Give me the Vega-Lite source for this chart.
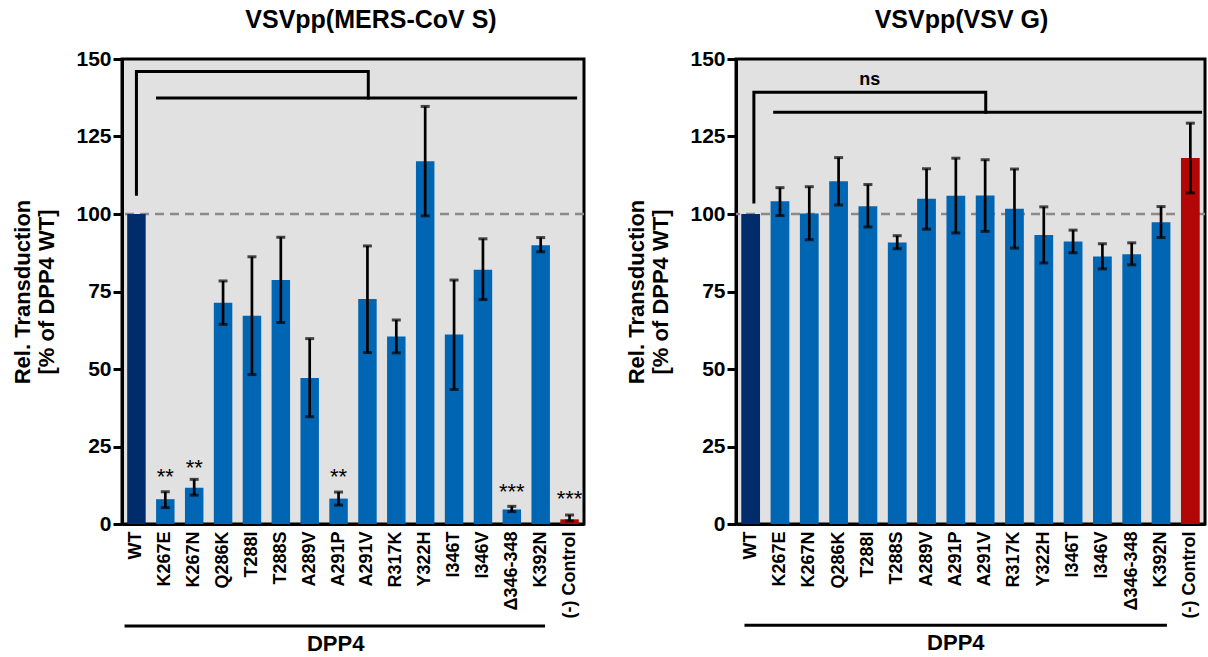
{
  "$schema": "https://vega.github.io/schema/vega-lite/v6.json",
  "padding": {"left": 10, "top": 6, "right": 2, "bottom": 2},
  "bounds": "flush",
  "spacing": 152,
  "config": {
    "font": "Liberation Sans",
    "view": {"fill": "#e1e1e1", "stroke": "#000000", "strokeWidth": 3},
    "axis": {
      "domainColor": "#000000", "domainWidth": 3, "grid": false,
      "labelColor": "#000000", "labelFontWeight": "bold",
      "titleColor": "#000000", "titleFontWeight": "bold",
      "tickColor": "#000000", "tickWidth": 3
    },
    "axisX": {"ticks": false, "labelAngle": -90, "labelFontSize": 18, "labelPadding": 7, "title": null},
    "axisY": {"tickSize": 9, "labelFontSize": 21, "labelPadding": 2, "titleFontSize": 22, "titlePadding": 17, "titleLineHeight": 24},
    "title": {"fontSize": 25, "fontWeight": "bold", "offset": 15, "color": "#000000"}
  },
  "datasets": {
    "ref": [{"y": 100}],
    "mers": [
      {"name": "WT", "value": 100, "grp": "WT"},
      {"name": "K267E", "value": 8.0, "lo": 5.3, "hi": 10.4, "grp": "mut", "star": "**", "starY": 12.9},
      {"name": "K267N", "value": 11.7, "lo": 9.3, "hi": 14.4, "grp": "mut", "star": "**", "starY": 15.9},
      {"name": "Q286K", "value": 71.4, "lo": 64.4, "hi": 78.4, "grp": "mut"},
      {"name": "T288I", "value": 67.2, "lo": 48.2, "hi": 86.2, "grp": "mut"},
      {"name": "T288S", "value": 78.7, "lo": 65.0, "hi": 92.5, "grp": "mut"},
      {"name": "A289V", "value": 47.1, "lo": 34.6, "hi": 59.8, "grp": "mut"},
      {"name": "A291P", "value": 8.2, "lo": 6.1, "hi": 10.3, "grp": "mut", "star": "**", "starY": 12.9},
      {"name": "A291V", "value": 72.6, "lo": 55.3, "hi": 89.7, "grp": "mut"},
      {"name": "R317K", "value": 60.5, "lo": 55.2, "hi": 65.8, "grp": "mut"},
      {"name": "Y322H", "value": 117.0, "lo": 99.4, "hi": 134.7, "grp": "mut"},
      {"name": "I346T", "value": 61.1, "lo": 43.4, "hi": 78.7, "grp": "mut"},
      {"name": "I346V", "value": 82.0, "lo": 72.4, "hi": 92.0, "grp": "mut"},
      {"name": "Δ346-348", "value": 4.7, "lo": 4.0, "hi": 5.7, "grp": "mut", "star": "***", "starY": 8.2},
      {"name": "K392N", "value": 89.9, "lo": 87.8, "hi": 92.4, "grp": "mut"},
      {"name": "(-) Control", "value": 1.5, "lo": 1.0, "hi": 2.9, "grp": "ctrl", "star": "***", "starY": 5.9}
    ],
    "vsv": [
      {"name": "WT", "value": 100, "grp": "WT"},
      {"name": "K267E", "value": 104.1, "lo": 99.5, "hi": 108.5, "grp": "mut"},
      {"name": "K267N", "value": 100.2, "lo": 91.7, "hi": 108.8, "grp": "mut"},
      {"name": "Q286K", "value": 110.6, "lo": 102.9, "hi": 118.2, "grp": "mut"},
      {"name": "T288I", "value": 102.5, "lo": 95.8, "hi": 109.5, "grp": "mut"},
      {"name": "T288S", "value": 90.8, "lo": 88.8, "hi": 93.0, "grp": "mut"},
      {"name": "A289V", "value": 104.9, "lo": 95.1, "hi": 114.6, "grp": "mut"},
      {"name": "A291P", "value": 105.9, "lo": 93.9, "hi": 118.0, "grp": "mut"},
      {"name": "A291V", "value": 106.0, "lo": 94.4, "hi": 117.5, "grp": "mut"},
      {"name": "R317K", "value": 101.7, "lo": 89.0, "hi": 114.5, "grp": "mut"},
      {"name": "Y322H", "value": 93.2, "lo": 84.2, "hi": 102.3, "grp": "mut"},
      {"name": "I346T", "value": 91.1, "lo": 87.5, "hi": 94.8, "grp": "mut"},
      {"name": "I346V", "value": 86.3, "lo": 82.3, "hi": 90.4, "grp": "mut"},
      {"name": "Δ346-348", "value": 87.0, "lo": 83.6, "hi": 90.7, "grp": "mut"},
      {"name": "K392N", "value": 97.3, "lo": 92.4, "hi": 102.4, "grp": "mut"},
      {"name": "(-) Control", "value": 118.1, "lo": 106.8, "hi": 129.3, "grp": "ctrl"}
    ],
    "brk_mers": [
      {"seg": "a", "ord": 1, "u": 0.5, "v": 106.4},
      {"seg": "a", "ord": 2, "u": 0.5, "v": 146.0},
      {"seg": "a", "ord": 3, "u": 8.53, "v": 146.0},
      {"seg": "a", "ord": 4, "u": 8.53, "v": 137.4},
      {"seg": "b", "ord": 1, "u": 1.23, "v": 137.4},
      {"seg": "b", "ord": 2, "u": 15.71, "v": 137.4},
      {"seg": "c", "ord": 1, "u": 0.14, "v": -32.9},
      {"seg": "c", "ord": 2, "u": 14.6, "v": -32.9}
    ],
    "lab_mers": [
      {"txt": "DPP4", "u": 7.4, "v": -38.7}
    ],
    "brk_vsv": [
      {"seg": "a", "ord": 1, "u": 0.61, "v": 103.9},
      {"seg": "a", "ord": 2, "u": 0.61, "v": 139.3},
      {"seg": "a", "ord": 3, "u": 8.52, "v": 139.3},
      {"seg": "a", "ord": 4, "u": 8.52, "v": 132.8},
      {"seg": "b", "ord": 1, "u": 1.32, "v": 132.8},
      {"seg": "b", "ord": 2, "u": 15.85, "v": 132.8},
      {"seg": "c", "ord": 1, "u": 0.34, "v": -32.7},
      {"seg": "c", "ord": 2, "u": 14.65, "v": -32.7}
    ],
    "lab_vsv": [
      {"txt": "DPP4", "u": 7.5, "v": -38.5},
      {"txt": "ns", "u": 4.56, "v": 143.3}
    ]
  },
  "hconcat": [
    {
      "width": 462,
      "height": 465,
      "title": {"text": "VSVpp(MERS-CoV S)", "dx": 18},
      "resolve": {"scale": {"x": "independent"}, "axis": {"x": "independent"}},
      "layer": [
        {
          "data": {"name": "ref"},
          "mark": {"type": "rule", "color": "#8a8a8a", "strokeWidth": 2.5, "strokeDash": [9, 6]},
          "encoding": {"y": {"field": "y", "type": "quantitative", "scale": {"domain": [0, 150], "nice": false}, "axis": {"values": [0, 25, 50, 75, 100, 125, 150], "title": ["Rel. Transduction", "[% of DPP4 WT]"]}}}
        },
        {
          "data": {"name": "mers"},
          "encoding": {
            "x": {"field": "name", "type": "nominal", "sort": null, "scale": {"paddingInner": 0.36, "paddingOuter": 0.18}, "axis": {"title": null}}
          },
          "layer": [
            {
              "mark": {"type": "bar"},
              "encoding": {
                "y": {"field": "value", "type": "quantitative", "scale": {"domain": [0, 150], "nice": false}, "axis": {"values": [0, 25, 50, 75, 100, 125, 150], "title": ["Rel. Transduction", "[% of DPP4 WT]"]}},
                "color": {"field": "grp", "type": "nominal", "scale": {"domain": ["WT", "mut", "ctrl"], "range": ["#002c6c", "#0066b3", "#b30606"]}, "legend": null}
              }
            },
            {
              "mark": {"type": "rule", "color": "#000000", "strokeWidth": 2.7},
              "encoding": {
                "y": {"field": "lo", "type": "quantitative"},
                "y2": {"field": "hi"}
              }
            },
            {
              "mark": {"type": "tick", "color": "#000000", "size": 9, "thickness": 3},
              "encoding": {"y": {"field": "lo", "type": "quantitative"}}
            },
            {
              "mark": {"type": "tick", "color": "#000000", "size": 9, "thickness": 3},
              "encoding": {"y": {"field": "hi", "type": "quantitative"}}
            },
            {
              "transform": [{"filter": "datum.star != null"}],
              "mark": {"type": "text", "fontSize": 22, "fontWeight": "normal", "baseline": "alphabetic", "color": "#000000"},
              "encoding": {
                "y": {"field": "starY", "type": "quantitative"},
                "text": {"field": "star"}
              }
            }
          ]
        },
        {
          "layer": [
            {
              "data": {"name": "brk_mers"},
              "mark": {"type": "line", "color": "#000000", "strokeWidth": 3, "strokeJoin": "miter", "strokeCap": "square"},
              "encoding": {
                "x": {"field": "u", "type": "quantitative", "scale": {"domain": [0, 16], "nice": false, "zero": false}, "axis": null},
                "y": {"field": "v", "type": "quantitative"},
                "detail": {"field": "seg"},
                "order": {"field": "ord"}
              }
            },
            {
              "data": {"name": "lab_mers"},
              "mark": {"type": "text", "fontSize": 22, "fontWeight": "bold", "baseline": "middle", "color": "#000000"},
              "encoding": {
                "x": {"field": "u", "type": "quantitative", "scale": {"domain": [0, 16], "nice": false, "zero": false}, "axis": null},
                "y": {"field": "v", "type": "quantitative"},
                "text": {"field": "txt"}
              }
            }
          ]
        }
      ]
    },
    {
      "width": 469,
      "height": 465,
      "title": {"text": "VSVpp(VSV G)", "dx": -9},
      "resolve": {"scale": {"x": "independent"}, "axis": {"x": "independent"}},
      "layer": [
        {
          "data": {"name": "ref"},
          "mark": {"type": "rule", "color": "#8a8a8a", "strokeWidth": 2.5, "strokeDash": [9, 6]},
          "encoding": {"y": {"field": "y", "type": "quantitative", "scale": {"domain": [0, 150], "nice": false}, "axis": {"values": [0, 25, 50, 75, 100, 125, 150], "title": ["Rel. Transduction", "[% of DPP4 WT]"]}}}
        },
        {
          "data": {"name": "vsv"},
          "encoding": {
            "x": {"field": "name", "type": "nominal", "sort": null, "scale": {"paddingInner": 0.36, "paddingOuter": 0.18}, "axis": {"title": null}}
          },
          "layer": [
            {
              "mark": {"type": "bar"},
              "encoding": {
                "y": {"field": "value", "type": "quantitative", "scale": {"domain": [0, 150], "nice": false}, "axis": {"values": [0, 25, 50, 75, 100, 125, 150], "title": ["Rel. Transduction", "[% of DPP4 WT]"]}},
                "color": {"field": "grp", "type": "nominal", "scale": {"domain": ["WT", "mut", "ctrl"], "range": ["#002c6c", "#0066b3", "#b30606"]}, "legend": null}
              }
            },
            {
              "mark": {"type": "rule", "color": "#000000", "strokeWidth": 2.7},
              "encoding": {
                "y": {"field": "lo", "type": "quantitative"},
                "y2": {"field": "hi"}
              }
            },
            {
              "mark": {"type": "tick", "color": "#000000", "size": 9, "thickness": 3},
              "encoding": {"y": {"field": "lo", "type": "quantitative"}}
            },
            {
              "mark": {"type": "tick", "color": "#000000", "size": 9, "thickness": 3},
              "encoding": {"y": {"field": "hi", "type": "quantitative"}}
            }
          ]
        },
        {
          "layer": [
            {
              "data": {"name": "brk_vsv"},
              "mark": {"type": "line", "color": "#000000", "strokeWidth": 3, "strokeJoin": "miter", "strokeCap": "square"},
              "encoding": {
                "x": {"field": "u", "type": "quantitative", "scale": {"domain": [0, 16], "nice": false, "zero": false}, "axis": null},
                "y": {"field": "v", "type": "quantitative"},
                "detail": {"field": "seg"},
                "order": {"field": "ord"}
              }
            },
            {
              "data": {"name": "lab_vsv"},
              "transform": [{"filter": "datum.txt == 'DPP4'"}],
              "mark": {"type": "text", "fontSize": 22, "fontWeight": "bold", "baseline": "middle", "color": "#000000"},
              "encoding": {
                "x": {"field": "u", "type": "quantitative", "scale": {"domain": [0, 16], "nice": false, "zero": false}, "axis": null},
                "y": {"field": "v", "type": "quantitative"},
                "text": {"field": "txt"}
              }
            },
            {
              "data": {"name": "lab_vsv"},
              "transform": [{"filter": "datum.txt == 'ns'"}],
              "mark": {"type": "text", "fontSize": 18, "fontWeight": "bold", "baseline": "middle", "color": "#000000"},
              "encoding": {
                "x": {"field": "u", "type": "quantitative", "scale": {"domain": [0, 16], "nice": false, "zero": false}, "axis": null},
                "y": {"field": "v", "type": "quantitative"},
                "text": {"field": "txt"}
              }
            }
          ]
        }
      ]
    }
  ]
}
